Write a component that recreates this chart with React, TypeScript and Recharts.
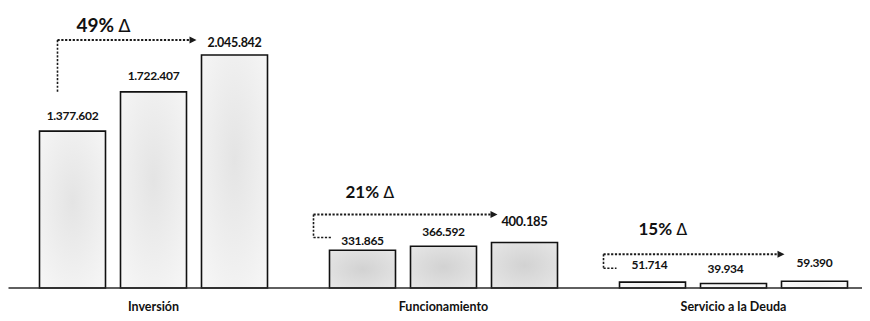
import React from 'react';
import { BarChart, Bar, XAxis, YAxis, Cell, LabelList } from 'recharts';

const categories = ['Inversión', 'Funcionamiento', 'Servicio a la Deuda'];
const periodo1 = [1377602, 331865, 51714];
const periodo2 = [1722407, 366592, 39934];
const periodo3 = [2045842, 400185, 59390];
const variaciones = ['49%', '21%', '15%'];

const data = categories.map((c, i) => ({
  categoria: c,
  p1: periodo1[i],
  p2: periodo2[i],
  p3: periodo3[i],
}));

const fmt = (v: number) => v.toLocaleString('de-DE');

const FONT = 'Lato, "Open Sans", sans-serif';
const BAR_SIZE = 66;
const BAR_GAP = 15;

// label offsets (style only): [series][category] -> [dx, dyAboveTop, fontSize]
const labelStyle = [
  [[0, 16, 12], [0, 10, 12], [-3, 18, 12]],
  [[0, 16, 12], [0, 15, 12], [-8, 15, 12]],
  [[0, 13, 12.5], [0, 21, 13], [0, 19, 12]],
];

// annotation layout (style only)
const annLayout = [
  { rise: 15, vx: 18, drop: 52, dash: 0, end: -5, tx: 37, tb: 8, fs: 19 },
  { rise: 28, vx: -16, drop: 23, dash: 18, end: 6, tx: 16, tb: 16, fs: 17 },
  { rise: 27, vx: -16, drop: 14, dash: 13, end: 3, tx: 19, tb: 19, fs: 17 },
];

const fills = ['url(#gInv)', 'url(#gFun)', 'url(#gSer)'];

const Annotation = ({ bar3Left, bar3Top, width, index }: any) => {
  const L = annLayout[index];
  const bar1Left = bar3Left - 2 * (width + BAR_GAP);
  const ay = bar3Top - L.rise;
  const vx = bar1Left + L.vx;
  const ex = bar3Left + L.end;
  const dash = '2.2 1.6';
  return (
    <g>
      <line x1={vx} y1={ay} x2={ex - 6} y2={ay} stroke="#1a1a1a" strokeWidth={2} strokeDasharray={dash} />
      <polygon points={`${ex - 7},${ay - 3.5} ${ex},${ay} ${ex - 7},${ay + 3.5}`} fill="#1a1a1a" />
      <line x1={vx} y1={ay} x2={vx} y2={ay + L.drop} stroke="#1a1a1a" strokeWidth={1.6} strokeDasharray={dash} />
      {L.dash > 0 && (
        <line x1={vx} y1={ay + L.drop} x2={vx + L.dash} y2={ay + L.drop} stroke="#1a1a1a" strokeWidth={1.6} strokeDasharray={dash} />
      )}
      <text x={bar1Left + L.tx} y={ay - L.tb} fontFamily={FONT} fontWeight={700} fontSize={L.fs} fill="#111">
        {variaciones[index]}
        <tspan dx={4} fontWeight={400} fontFamily='"DejaVu Sans", sans-serif' fontSize={L.fs * 0.95}>Δ</tspan>
      </text>
    </g>
  );
};

const makeLabel = (s: number) => (props: any) => {
  const { x, y, width, value, index } = props;
  const [dx, dy, fs] = labelStyle[s][index];
  const cx = Number(x) + Number(width) / 2 + dx;
  return (
    <g>
      <text
        x={cx}
        y={Number(y) - dy}
        textAnchor="middle"
        dominantBaseline="central"
        fontFamily={FONT}
        fontWeight={700}
        fontSize={fs}
        fill="#111"
        letterSpacing={-0.3}
      >
        {fmt(value)}
      </text>
      {s === 2 && (
        <Annotation bar3Left={Number(x)} bar3Top={Number(y)} width={Number(width)} index={index} />
      )}
    </g>
  );
};

const CatTick = ({ x, y, payload }: any) => (
  <text
    x={x}
    y={y + 18}
    textAnchor="middle"
    dominantBaseline="central"
    fontFamily={FONT}
    fontWeight={700}
    fontSize={12.5}
    fill="#111"
  >
    {payload.value}
  </text>
);

export default function App() {
  const seriesKeys = ['p1', 'p2', 'p3'];
  return (
    <div style={{ width: 862, height: 313, overflow: 'hidden' }}>
      <BarChart
        width={862}
        height={313}
        data={data}
        margin={{ top: 6.7, right: -8.5, bottom: 3, left: 0.5 }}
        barGap={BAR_GAP}
        barSize={BAR_SIZE}
      >
        <defs>
          <radialGradient id="gInv" cx="50%" cy="45%" r="70%">
            <stop offset="0%" stopColor="#e4e4e4" />
            <stop offset="100%" stopColor="#f6f6f6" />
          </radialGradient>
          <radialGradient id="gFun" cx="50%" cy="50%" r="70%">
            <stop offset="0%" stopColor="#d2d2d2" />
            <stop offset="100%" stopColor="#e6e6e6" />
          </radialGradient>
          <radialGradient id="gSer" cx="50%" cy="50%" r="70%">
            <stop offset="0%" stopColor="#f0f0f0" />
            <stop offset="100%" stopColor="#fafafa" />
          </radialGradient>
        </defs>
        <XAxis
          dataKey="categoria"
          tickLine={false}
          tickSize={0}
          tickMargin={0}
          height={30}
          axisLine={{ stroke: '#2a2a2a', strokeWidth: 1.5 }}
          tick={<CatTick />}
          interval={0}
        />
        <YAxis hide domain={[0, 2400000]} />
        {seriesKeys.map((k, s) => (
          <Bar key={k} dataKey={k} stroke="#111" strokeWidth={1.6} isAnimationActive={false}>
            {data.map((_, i) => (
              <Cell key={i} fill={fills[i]} />
            ))}
            <LabelList dataKey={k} content={makeLabel(s)} />
          </Bar>
        ))}
      </BarChart>
    </div>
  );
}
